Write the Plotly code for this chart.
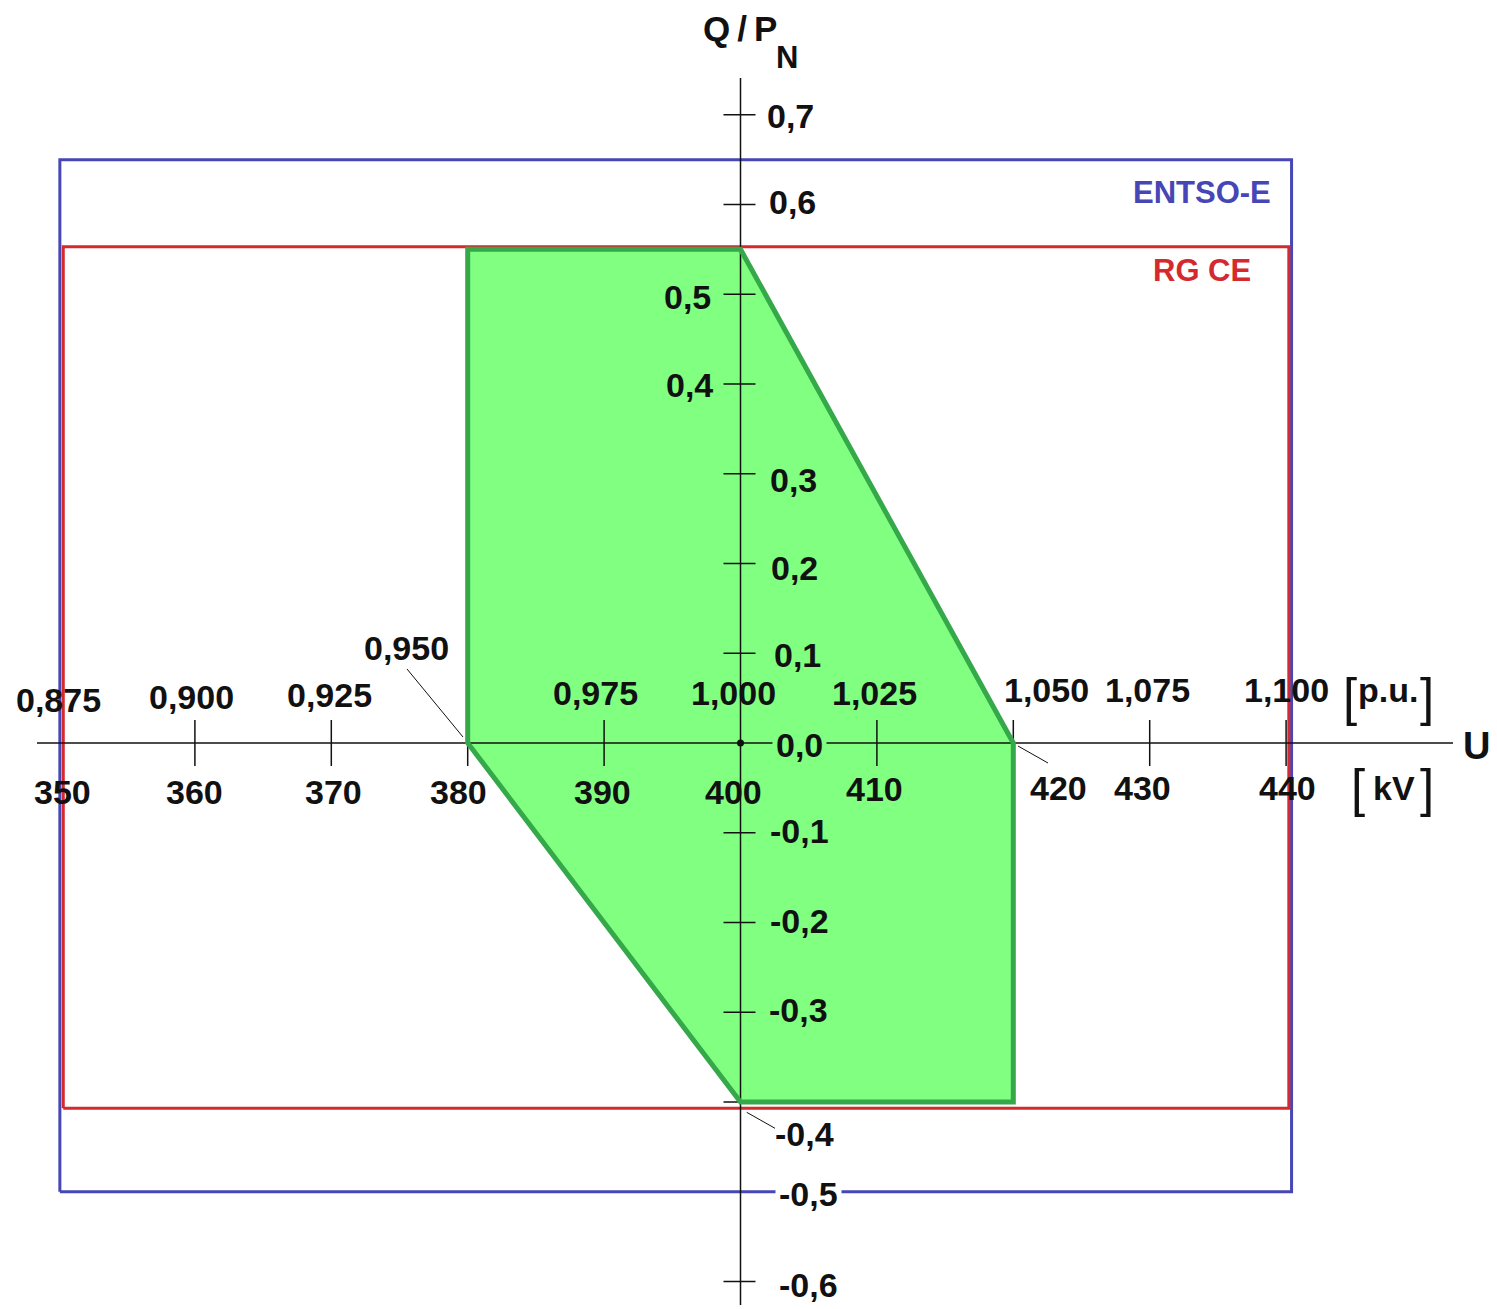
import plotly.graph_objects as go

# ---- data -------------------------------------------------------------
# Voltage axis: kV values and the matching per-unit values (400 kV base)
kv_ticks = [350, 360, 370, 380, 390, 400, 410, 420, 430, 440]
kv_labels = ["350", "360", "370", "380", "390", "400", "410", "420", "430", "440"]
pu_labels = ["0,875", "0,900", "0,925", "0,950", "0,975",
             "1,000", "1,025", "1,050", "1,075", "1,100"]

# Reactive power axis Q/P_N
q_ticks = [0.7, 0.6, 0.5, 0.4, 0.3, 0.2, 0.1, 0.0,
           -0.1, -0.2, -0.3, -0.4, -0.5, -0.6]
q_labels = ["0,7", "0,6", "0,5", "0,4", "0,3", "0,2", "0,1", "0,0",
            "-0,1", "-0,2", "-0,3", "-0,4", "-0,5", "-0,6"]

# Outer envelopes (U range in kV, Q/P_N range)
entsoe_u = [350.1, 440.4]
entsoe_q = [-0.50, 0.65]
rgce_u = [350.35, 440.2]
rgce_q = [-0.407, 0.553]

# Required U - Q/P_N profile
profile_u = [380, 400, 420, 420, 400, 380]
profile_q = [0.55, 0.55, 0.0, -0.40, -0.40, 0.0]

# ---- layout constants -------------------------------------------------
W, H = 1497, 1309
PX_PER_KV = 13.64
PX_PER_Q = 897.5
ORIGIN_PX = (740.5, 743.0)

x_lo = 400 - ORIGIN_PX[0] / PX_PER_KV
x_hi = x_lo + W / PX_PER_KV
y_hi = ORIGIN_PX[1] / PX_PER_Q
y_lo = y_hi - H / PX_PER_Q

FONT = "Liberation Sans, Arial, sans-serif"
BLUE = "#4646B6"
RED = "#D42A2E"
GREEN_FILL = "#80FF80"
GREEN_LINE = "#35A84A"
BLACK = "#111111"


def rect(u, q):
    return [u[0], u[1], u[1], u[0], u[0]], [q[0], q[0], q[1], q[1], q[0]]


fig = go.Figure()

bx, by = rect(entsoe_u, entsoe_q)
fig.add_trace(go.Scatter(x=bx, y=by, mode="lines",
                         line=dict(color=BLUE, width=3), hoverinfo="skip"))
rx, ry = rect(rgce_u, rgce_q)
fig.add_trace(go.Scatter(x=rx, y=ry, mode="lines",
                         line=dict(color=RED, width=3), hoverinfo="skip"))

# profile area (fill only; its outline is drawn later on top of the axes)
fig.add_trace(go.Scatter(
    x=profile_u + profile_u[:1], y=profile_q + profile_q[:1],
    mode="lines", fill="toself", fillcolor=GREEN_FILL,
    line=dict(color=GREEN_FILL, width=0), hoverinfo="skip"))

# origin dot
fig.add_trace(go.Scatter(x=[400], y=[0], mode="markers",
                         marker=dict(color=BLACK, size=7), hoverinfo="skip"))

shapes = []
axis_line = dict(color=BLACK, width=1.5)

# horizontal (U) axis
shapes.append(dict(type="line", xref="x", yref="y", xsizemode="pixel",
                   xanchor=400, x0=-703.5, x1=712.5, y0=0, y1=0,
                   line=axis_line))
# vertical (Q/P_N) axis
shapes.append(dict(type="line", xref="x", yref="y", ysizemode="pixel",
                   yanchor=0, y0=665, y1=-562, x0=400, x1=400,
                   line=axis_line))

# U ticks
for k in kv_ticks:
    if k in (350, 400):
        continue
    shapes.append(dict(type="line", xref="x", yref="y", ysizemode="pixel",
                       yanchor=0, y0=-23, y1=23, x0=k, x1=k,
                       line=axis_line))
# Q ticks
for q in q_ticks:
    if q in (0.0, -0.5):
        continue
    shapes.append(dict(type="line", xref="x", yref="y", xsizemode="pixel",
                       xanchor=400, x0=-17, x1=15, y0=q, y1=q,
                       line=axis_line))

# profile outline
path = "M " + " L ".join(f"{u},{q}" for u, q in zip(profile_u, profile_q)) + " Z"
shapes.append(dict(type="path", xref="x", yref="y", path=path,
                   line=dict(color=GREEN_LINE, width=5)))

# leader lines for the labels moved away from their points
leader = dict(color=BLACK, width=1)
for (u, q, x0, y0, x1, y1) in [(380, 0.0, -60.7, 74, -4.7, 6),
                               (420, 0.0, 4.7, -3, 34.7, -20),
                               (400, -0.4, 6.2, -10.3, 34.5, -26.3)]:
    shapes.append(dict(type="line", xref="x", yref="y",
                       xsizemode="pixel", ysizemode="pixel",
                       xanchor=u, yanchor=q, x0=x0, y0=y0, x1=x1, y1=y1,
                       line=leader))

annotations = []
lab_font = dict(family=FONT, size=34, color=BLACK, weight="bold")

# kV labels (below axis) - pixel offsets from each tick
kv_dx = [3.5, 0, 2, -9, -2, -7.5, -2, 45, -7, 1]
kv_dy = [-49, -49, -49, -49, -49, -49, -46, -45, -45, -45]
for k, lab, dx, dy in zip(kv_ticks, kv_labels, kv_dx, kv_dy):
    annotations.append(dict(x=k, y=0, xref="x", yref="y", text=lab,
                            showarrow=False, xshift=dx, yshift=dy,
                            font=lab_font))

# p.u. labels (above axis)
pu_dx = [0, -3, -2, -61, -9, -7.5, -2, 33, -2, 0]
pu_dy = [43, 46, 48, 95, 50, 50, 50, 53, 53, 53]
for k, lab, dx, dy in zip(kv_ticks, pu_labels, pu_dx, pu_dy):
    annotations.append(dict(x=k, y=0, xref="x", yref="y", text=lab,
                            showarrow=False, xshift=dx, yshift=dy,
                            font=lab_font))

# Q/P_N labels
q_side = ["l", "l", "r", "r", "l", "l", "l", "l", "l", "l", "l", "l", "l", "l"]
q_dx = [24.5, 26.5, -27.5, -25.5, 27.5, 28.5, 31.5, 31.5,
        27.5, 27.5, 26.5, 32.5, 34.5, 36.5]
q_dy = [-1, 2.5, -3, -1, -6, -4.5, -2, -1.5, 2, 1.5, 2, -31.5, -2, -3]
for q, lab, side, dx, dy in zip(q_ticks, q_labels, q_side, q_dx, q_dy):
    bg = None
    if q == 0.0:
        bg = GREEN_FILL
    elif q == -0.5:
        bg = "white"
    ann = dict(x=400, y=q, xref="x", yref="y", text=lab, showarrow=False,
               xanchor="left" if side == "l" else "right",
               xshift=dx, yshift=dy, font=lab_font)
    if bg:
        ann.update(bgcolor=bg, borderpad=3)
    annotations.append(ann)

# unit brackets and axis names
bracket_font = dict(family=FONT, size=51, color=BLACK)
annotations += [
    dict(x=440, y=0, xref="x", yref="y", text="p.u.", showarrow=False,
         xshift=102, yshift=53, font=lab_font),
    dict(x=440, y=0, xref="x", yref="y", text="[", showarrow=False,
         xshift=64, yshift=46, font=bracket_font),
    dict(x=440, y=0, xref="x", yref="y", text="]", showarrow=False,
         xshift=141, yshift=46, font=bracket_font),
    dict(x=440, y=0, xref="x", yref="y", text="kV", showarrow=False,
         xshift=108, yshift=-45, font=lab_font),
    dict(x=440, y=0, xref="x", yref="y", text="[", showarrow=False,
         xshift=72, yshift=-45, font=bracket_font),
    dict(x=440, y=0, xref="x", yref="y", text="]", showarrow=False,
         xshift=141, yshift=-45, font=bracket_font),
    dict(x=400, y=0, xref="x", yref="y", text="U", showarrow=False,
         xshift=736, yshift=-3,
         font=dict(family=FONT, size=38, color=BLACK, weight="bold")),
    dict(x=400, y=0, xref="x", yref="y", text="Q\u2009/\u2009P",
         showarrow=False, xshift=-1, yshift=715,
         font=dict(family=FONT, size=35, color=BLACK, weight="bold")),
    dict(x=400, y=0, xref="x", yref="y", text="N", showarrow=False,
         xshift=46, yshift=686,
         font=dict(family=FONT, size=31, color=BLACK, weight="bold")),
    dict(x=entsoe_u[1], y=entsoe_q[1], xref="x", yref="y", text="ENTSO-E",
         showarrow=False, xanchor="right", xshift=-19, yshift=-33,
         font=dict(family=FONT, size=31, color=BLUE, weight="bold")),
    dict(x=rgce_u[1], y=rgce_q[1], xref="x", yref="y", text="RG CE",
         showarrow=False, xanchor="right", xshift=-36, yshift=-24,
         font=dict(family=FONT, size=31, color=RED, weight="bold")),
]

fig.update_layout(
    width=W, height=H,
    margin=dict(l=0, r=0, t=0, b=0),
    paper_bgcolor="white", plot_bgcolor="white",
    showlegend=False,
    xaxis=dict(range=[x_lo, x_hi], visible=False, fixedrange=True),
    yaxis=dict(range=[y_lo, y_hi], visible=False, fixedrange=True),
    shapes=shapes,
    annotations=annotations,
)

fig.write_html("out.html", config={"displayModeBar": False})
